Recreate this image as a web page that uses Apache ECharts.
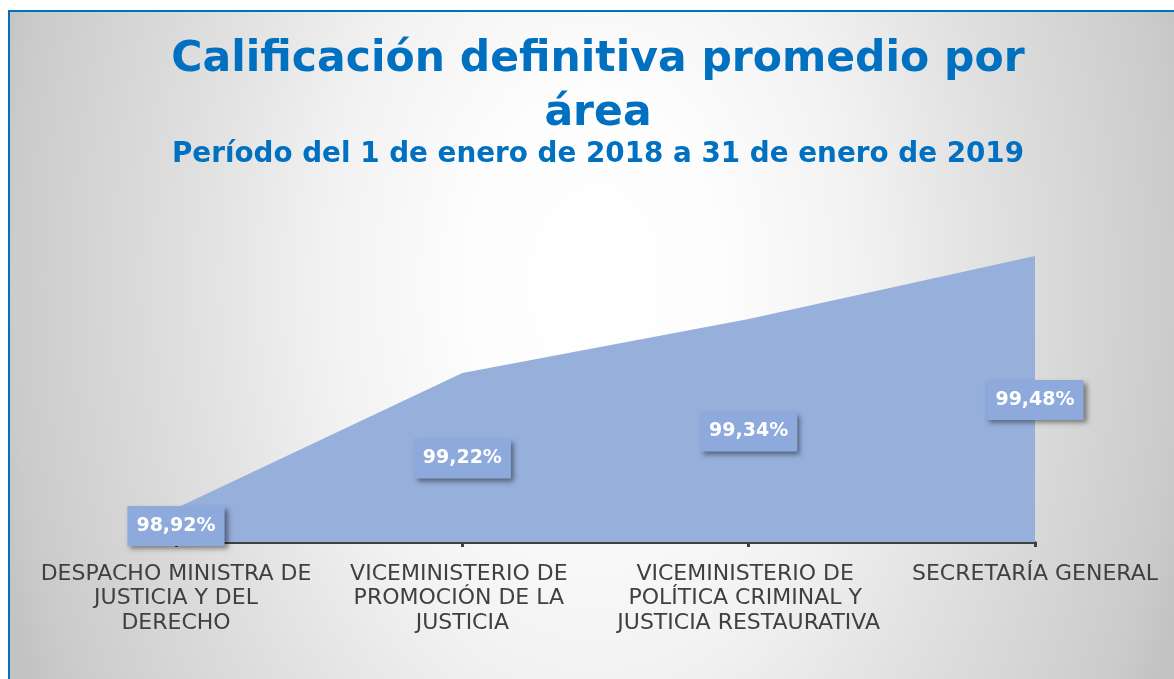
<!DOCTYPE html>
<html>
<head>
<meta charset="utf-8">
<script src="https://cdn.jsdelivr.net/npm/echarts@6/dist/echarts.min.js"></script>
<style>
  html, body { margin: 0; padding: 0; background: #ffffff; }
  #chart { width: 1174px; height: 679px; }
</style>
</head>
<body>
<div id="chart"></div>
<script>
var categorias = [
    'DESPACHO MINISTRA DE JUSTICIA Y DEL DERECHO',
    'VICEMINISTERIO DE PROMOCIÓN DE LA JUSTICIA',
    'VICEMINISTERIO DE POLÍTICA CRIMINAL Y JUSTICIA RESTAURATIVA',
    'SECRETARÍA GENERAL'
];
var calificacion = [98.92, 99.22, 99.34, 99.48];
var tituloLineas = ['Calificación definitiva promedio por', 'área'];
var subtitulo = 'Período del 1 de enero de 2018 a 31 de enero de 2019';

var yMin = 98.845;
var yMax = 99.5;
var fuente = "'DejaVu Sans', Verdana, sans-serif";

function showChart(){
    var dom = document.getElementById("chart");
    var myChart = echarts.init(dom);

    // degradado radial estirado en vertical (coordenadas locales del rectángulo)
    var fondo = new echarts.graphic.RadialGradient(594, 192, 620, [
        { offset: 0, color: '#ffffff' },
        { offset: 0.2, color: '#fdfdfd' },
        { offset: 0.43, color: '#f2f2f2' },
        { offset: 0.64, color: '#e1e1e1' },
        { offset: 0.94, color: '#cbcbcb' },
        { offset: 1, color: '#c3c3c3' }
    ], true);

    var option = {
        animation: false,
        graphic: [{
            type: 'rect',
            z: -10,
            silent: true,
            originX: 0,
            originY: 11,
            scaleY: 1.5,
            shape: { x: 9, y: 11, width: 1180, height: 453 },
            style: { fill: fondo }
        }, {
            type: 'rect',
            z: -9,
            silent: true,
            shape: { x: 9, y: 11, width: 1180, height: 690 },
            style: { fill: null, stroke: '#0070c0', lineWidth: 2 }
        }],
        title: [{
            text: tituloLineas.join('\n'),
            left: 598,
            top: 33,
            padding: 0,
            textAlign: 'center',
            textStyle: {
                fontFamily: fuente,
                fontWeight: 'bold',
                fontSize: 42.5,
                lineHeight: 54,
                color: '#0070c0'
            }
        }, {
            text: subtitulo,
            left: 598,
            top: 141,
            padding: 0,
            textAlign: 'center',
            textStyle: {
                fontFamily: fuente,
                fontWeight: 'bold',
                fontSize: 27.8,
                lineHeight: 28,
                color: '#0070c0'
            }
        }],
        grid: {
            left: 176,
            right: 139,
            top: 247,
            bottom: 137,
            outerBoundsMode: 'none',
            containLabel: false
        },
        xAxis: {
            type: 'category',
            boundaryGap: false,
            data: categorias,
            axisLine: { lineStyle: { color: '#404040', width: 3 } },
            axisTick: { length: 5, lineStyle: { color: '#404040', width: 3 } },
            axisLabel: {
                margin: 20,
                interval: 0,
                fontFamily: fuente,
                fontSize: 22,
                lineHeight: 24.5,
                color: '#404040',
                width: 278,
                overflow: 'break'
            }
        },
        yAxis: {
            type: 'value',
            min: yMin,
            max: yMax,
            show: false,
            splitLine: { show: false }
        },
        series: [{
            type: 'line',
            data: calificacion,
            symbol: 'circle',
            symbolSize: 0.1,
            itemStyle: { color: '#96afdb' },
            lineStyle: { width: 0 },
            areaStyle: { color: '#96afdb', opacity: 1 },
            label: {
                show: true,
                position: 'inside',
                formatter: function (p) {
                    return p.value.toFixed(2).replace('.', ',') + '%';
                },
                fontFamily: fuente,
                fontWeight: 'bold',
                fontSize: 19,
                lineHeight: 20,
                color: '#ffffff',
                backgroundColor: '#8eaadc',
                padding: [10, 9],
                shadowColor: 'rgba(0,0,0,0.45)',
                shadowBlur: 5,
                shadowOffsetX: 3,
                shadowOffsetY: 3
            }
        }]
    };

    myChart.setOption(option, true);

    // etiquetas centradas en la altura del área, como en el original
    var base = myChart.convertToPixel({ yAxisIndex: 0 }, yMin);
    var datos = calificacion.map(function (v, i) {
        var p = myChart.convertToPixel({ seriesIndex: 0 }, [i, v]);
        return { value: v, label: { offset: [0, (base - p[1]) / 2 + 1] } };
    });
    myChart.setOption({ series: [{ data: datos }] });

    window.addEventListener("resize", function () {
        myChart.resize();
    });
}
showChart();
</script>
</body>
</html>
